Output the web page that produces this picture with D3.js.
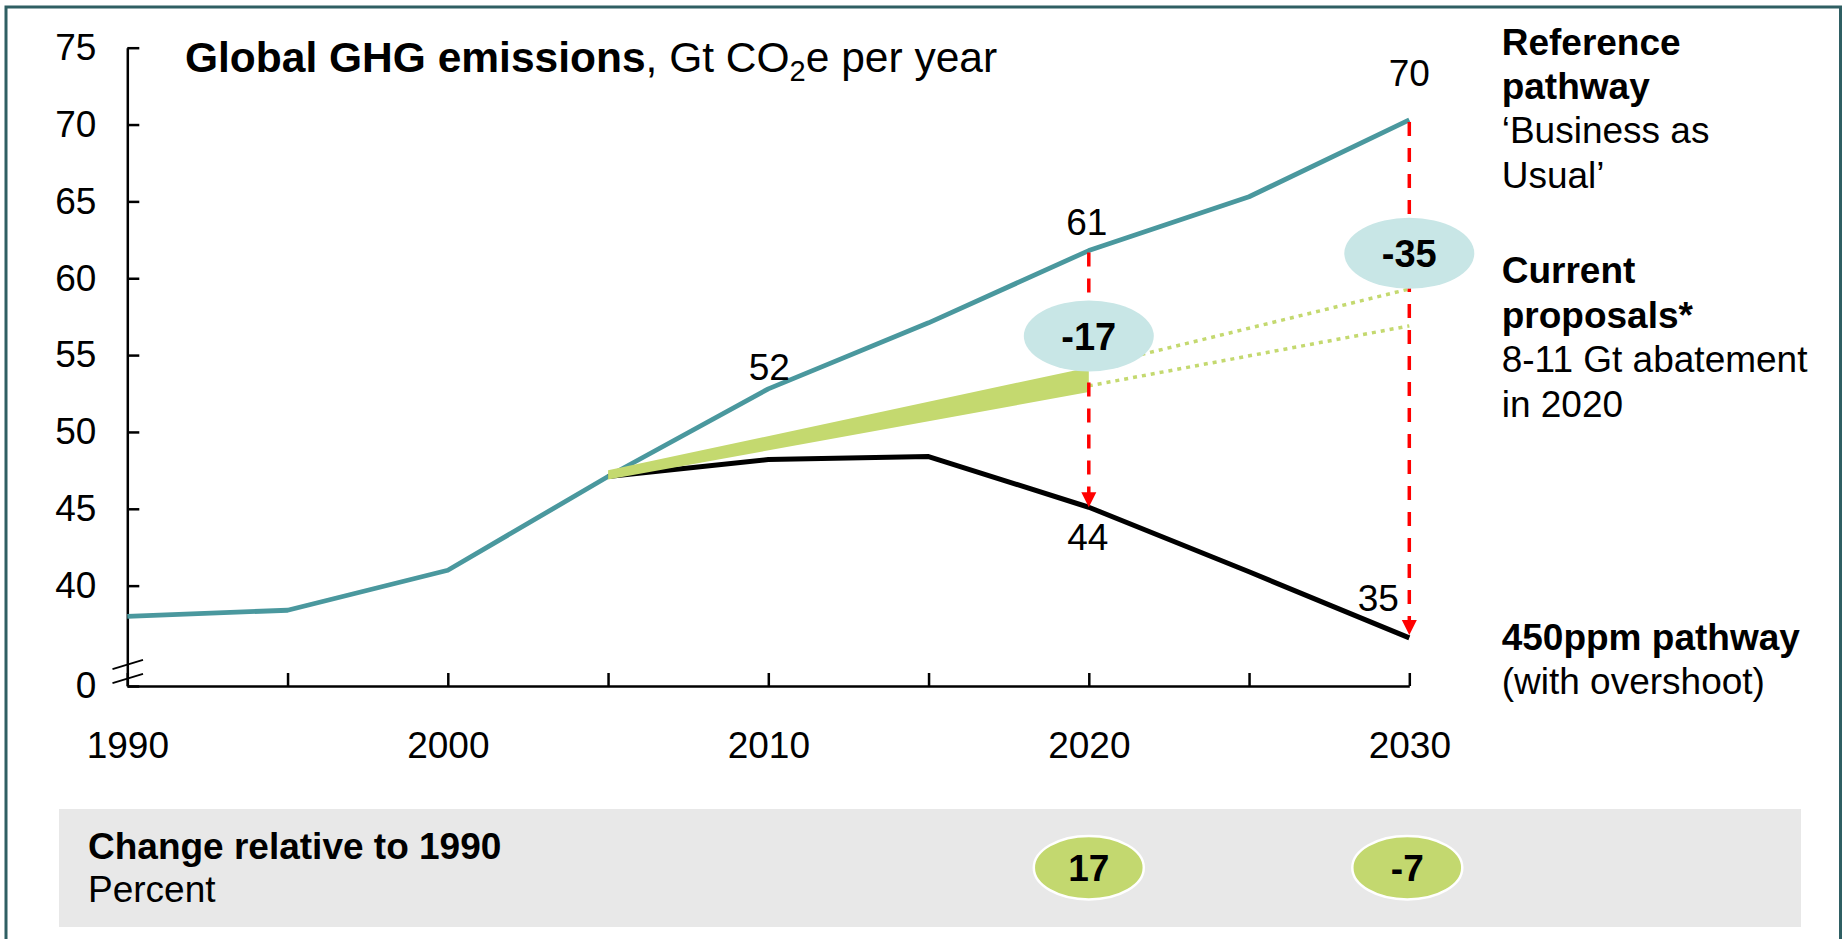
<!DOCTYPE html>
<html>
<head>
<meta charset="utf-8">
<script src="https://cdn.jsdelivr.net/npm/d3@7"></script>
<style>
  html, body { margin: 0; padding: 0; background: #ffffff; }
  svg { display: block; }
  text { font-family: "Liberation Sans", Arial, Helvetica, sans-serif; }
</style>
</head>
<body>
<svg id="chart" width="1846" height="939"></svg>
<script>
// ---------------- DATA ----------------
const years = [1990, 1995, 2000, 2005, 2010, 2015, 2020, 2025, 2030];
const referenceValues = [38.0, 38.4, 41.0, 47.1, 52.8, 57.1, 61.8, 65.3, 70.3];

const pathwayYears = [2005, 2010, 2015, 2020, 2025, 2030];
const pathwayValues = [47.1, 48.2, 48.4, 45.1, 40.9, 36.6];

const proposalYears = [2005, 2020];
const proposalHigh = [47.5, 54.2];
const proposalLow = [46.9, 52.6];

const extensionYears = [2020, 2030];
const extensionHigh = [54.2, 59.3];
const extensionLow = [53.0, 56.9];

const yTickValues = [0, 40, 45, 50, 55, 60, 65, 70, 75];
const xTickValues = [1990, 1995, 2000, 2005, 2010, 2015, 2020, 2025, 2030];
const xLabelYears = [1990, 2000, 2010, 2020, 2030];

const referenceLabelYears = [2010, 2020, 2030];
const referenceLabelTexts = ["52", "61", "70"];
const pathwayLabelYears = [2020, 2030];
const pathwayLabelTexts = ["44", "35"];

const gapYears = [2020, 2030];
const gapValues = [-17, -35];
const changeYears = [2020, 2030];
const changeValues = [17, -7];

// ---------------- LAYOUT ----------------
const svg = d3.select("#chart");
const FONT = 37;
const teal = "#4A989E", green = "#C4D96F", bubble = "#C8E6E6", red = "#FF0000", frameCol = "#2F5F63";

const x = d3.scaleLinear().domain([1990, 2030]).range([127.3, 1409.3]);
// broken axis: 0 sits at the baseline, 40..75 is linear
const y = d3.scaleLinear().domain([0, 33.47, 75]).range([686, 686, 47.7]);

// frame
svg.append("rect").attr("x", 6).attr("y", 7).attr("width", 1834.5).attr("height", 1000)
  .attr("fill", "none").attr("stroke", frameCol).attr("stroke-width", 3);

// gray panel
svg.append("rect").attr("x", 59).attr("y", 809).attr("width", 1742).attr("height", 118)
  .attr("fill", "#E8E8E8");

// Title
const title = svg.append("text").attr("x", 185).attr("y", 71.5).attr("font-size", 42.5).attr("fill", "#000");
title.append("tspan").attr("font-weight", "bold").text("Global GHG emissions");
title.append("tspan").text(", Gt CO");
title.append("tspan").attr("font-size", 29).attr("dy", 9).text("2");
title.append("tspan").attr("dy", -9).text("e per year");

// Axes
const yAxis = d3.axisLeft(y).tickValues(yTickValues).tickSizeInner(-12).tickSizeOuter(0).tickPadding(31)
  .tickFormat(d3.format("d"));
const gy = svg.append("g").attr("transform", `translate(${x(1990)},0)`).call(yAxis);
gy.select(".domain").attr("stroke", "#000").attr("stroke-width", 2.5);
gy.selectAll(".tick line").attr("stroke", "#000").attr("stroke-width", 2.5);
gy.selectAll(".tick text").attr("font-size", FONT).attr("fill", "#000")
  .attr("font-family", '"Liberation Sans", Arial, sans-serif');

const xAxis = d3.axisBottom(x).tickValues(xTickValues).tickSizeInner(-13).tickSizeOuter(0).tickPadding(46)
  .tickFormat(d => xLabelYears.includes(d) ? String(d) : "");
const gx = svg.append("g").attr("transform", `translate(0,${y(0)})`).call(xAxis);
gx.select(".domain").attr("stroke", "#000").attr("stroke-width", 2.5);
gx.selectAll(".tick line").attr("stroke", "#000").attr("stroke-width", 2.5);
gx.selectAll(".tick text").attr("font-size", FONT).attr("fill", "#000")
  .attr("font-family", '"Liberation Sans", Arial, sans-serif');

// axis break marks
[664.5, 678.5].forEach(yy => {
  svg.append("line").attr("x1", 112.5).attr("y1", yy + 4.6).attr("x2", 143).attr("y2", yy - 4.6)
    .attr("stroke", "#000").attr("stroke-width", 1.8);
});

// Reference line
const line = d3.line().x(d => x(d[0])).y(d => y(d[1]));
svg.append("path").datum(years.map((d, i) => [d, referenceValues[i]]))
  .attr("d", line).attr("fill", "none").attr("stroke", teal).attr("stroke-width", 4.8)
  .attr("stroke-linejoin", "round");

// 450ppm line
svg.append("path").datum(pathwayYears.map((d, i) => [d, pathwayValues[i]]))
  .attr("d", line).attr("fill", "none").attr("stroke", "#000").attr("stroke-width", 5)
  .attr("stroke-linejoin", "round");

// Current proposals band
const area = d3.area().x(d => x(d[0])).y0(d => y(d[1])).y1(d => y(d[2]));
svg.append("path").datum(proposalYears.map((d, i) => [d, proposalLow[i], proposalHigh[i]]))
  .attr("d", area).attr("fill", green);

// Dotted extensions
[extensionHigh, extensionLow].forEach(vals => {
  svg.append("path").datum(extensionYears.map((d, i) => [d, vals[i]]))
    .attr("d", line).attr("fill", "none").attr("stroke", green).attr("stroke-width", 3.5)
    .attr("stroke-dasharray", "4,5");
});

// Red dashed arrows
gapYears.forEach((yr, i) => {
  const top = y(referenceValues[years.indexOf(yr)]) + 2;
  const tip = y(pathwayValues[pathwayYears.indexOf(yr)]) - (yr === 2030 ? 3 : 0);
  const head = 15;
  svg.append("line").attr("x1", x(yr)).attr("x2", x(yr)).attr("y1", top).attr("y2", tip - head + 1)
    .attr("stroke", red).attr("stroke-width", 3.5).attr("stroke-dasharray", "14,12");
  svg.append("path")
    .attr("d", `M${x(yr) - 7.5},${tip - head} L${x(yr) + 7.5},${tip - head} L${x(yr)},${tip} Z`)
    .attr("fill", red);
});

// Gap bubbles
const gapBubbleY = [336, 253.3];
gapYears.forEach((yr, i) => {
  svg.append("ellipse").attr("cx", x(yr)).attr("cy", gapBubbleY[i]).attr("rx", 65).attr("ry", 35.5)
    .attr("fill", bubble);
  svg.append("text").attr("x", x(yr)).attr("y", gapBubbleY[i]).attr("dy", "0.36em")
    .attr("text-anchor", "middle").attr("font-size", 38).attr("font-weight", "bold")
    .text(gapValues[i]);
});

// Value labels
const refLabelOffsets = [[1, -9], [-2, -15.5], [0, -33.5]];
referenceLabelYears.forEach((yr, i) => {
  const v = referenceValues[years.indexOf(yr)];
  svg.append("text").attr("x", x(yr) + refLabelOffsets[i][0]).attr("y", y(v) + refLabelOffsets[i][1])
    .attr("text-anchor", "middle").attr("font-size", FONT).text(referenceLabelTexts[i]);
});
const pathLabelOffsets = [[-1, 43], [-31, -26.5]];
pathwayLabelYears.forEach((yr, i) => {
  const v = pathwayValues[pathwayYears.indexOf(yr)];
  svg.append("text").attr("x", x(yr) + pathLabelOffsets[i][0]).attr("y", y(v) + pathLabelOffsets[i][1])
    .attr("text-anchor", "middle").attr("font-size", FONT).text(pathwayLabelTexts[i]);
});

// Right side legend text
const legendX = 1501.7;
const legendLines = [
  ["Reference", true, 55], ["pathway", true, 98.5], ["\u2018Business as", false, 143.3], ["Usual\u2019", false, 188],
  ["Current", true, 283], ["proposals*", true, 327.5], ["8-11 Gt abatement", false, 372], ["in 2020", false, 416.5],
  ["450ppm pathway", true, 650], ["(with overshoot)", false, 694]
];
legendLines.forEach(([t, b, yy]) => {
  svg.append("text").attr("x", legendX).attr("y", yy).attr("font-size", FONT)
    .attr("font-weight", b ? "bold" : "normal").text(t);
});

// Bottom panel
svg.append("text").attr("x", 88).attr("y", 858.5).attr("font-size", FONT).attr("font-weight", "bold")
  .text("Change relative to 1990");
svg.append("text").attr("x", 88).attr("y", 902).attr("font-size", FONT).text("Percent");
changeYears.forEach((yr, i) => {
  const cx = x(yr) - (yr === 2030 ? 2 : 0);
  svg.append("ellipse").attr("cx", cx).attr("cy", 867.7).attr("rx", 55).attr("ry", 31.7)
    .attr("fill", "#C3D86F").attr("stroke", "#fff").attr("stroke-width", 2.5);
  svg.append("text").attr("x", cx).attr("y", 867.7).attr("dy", "0.36em")
    .attr("text-anchor", "middle").attr("font-size", 37).attr("font-weight", "bold")
    .text(changeValues[i]);
});
</script>
</body>
</html>
